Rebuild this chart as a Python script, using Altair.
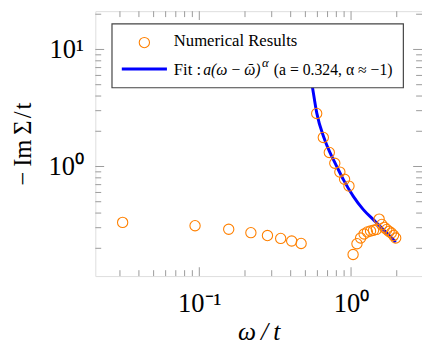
import altair as alt
import pandas as pd

# ---- data ----
X_PTS = [0.03125, 0.09375, 0.15625, 0.21875, 0.28125, 0.34375, 0.40625, 0.46875,
         0.59375, 0.65625, 0.71875, 0.78125, 0.84375, 0.90625, 0.96875,
         1.03125, 1.09375, 1.15625, 1.21875, 1.28125, 1.34375, 1.40625, 1.46875,
         1.53125, 1.59375, 1.65625, 1.71875, 1.78125, 1.84375, 1.90625, 1.96875]
Y_PTS = [0.333, 0.312, 0.291, 0.272, 0.257, 0.243, 0.231, 0.220,
         2.84, 1.77, 1.318, 1.066, 0.896, 0.778, 0.680,
         0.177, 0.219, 0.245, 0.265, 0.276, 0.281, 0.285, 0.290,
         0.355, 0.320, 0.302, 0.290, 0.279, 0.270, 0.258, 0.245]

FIT_X = [0.535, 0.556, 0.594, 0.662, 0.724, 0.788, 0.892, 1.035, 1.201, 1.43, 1.70, 1.97]
FIT_Y = [6.5, 4.80, 2.87, 1.77, 1.326, 1.06, 0.768, 0.556, 0.430, 0.343, 0.274, 0.226]

X_MAJOR = [0.1, 1.0]
X_MINOR = [0.03, 0.04, 0.05, 0.06, 0.07, 0.08, 0.09,
           0.2, 0.3, 0.4, 0.5, 0.6, 0.7, 0.8, 0.9, 2.0]
Y_MAJOR = [1.0, 10.0]
Y_MINOR = [0.2, 0.3, 0.4, 0.5, 0.6, 0.7, 0.8, 0.9,
           2, 3, 4, 5, 6, 7, 8, 9, 20]

LEGEND_LABELS = ["Numerical Results", "Fit :"]
FIT_FORMULA = "a(ω\u2009−\u2009ῶ)"
FIT_EXP = "α"
FIT_PARAMS = "(a = 0.324, α ≈ −1)"
X_TITLE = "ω\u2009/\u2009t"
Y_TITLE = "−\u2009Im\u2009Σ\u200a/\u200at"

# ---- layout ----
W, H = 333, 270
X_DOMAIN = [0.020643, 2.934]
Y_DOMAIN = [0.11581, 21.23]
FONT = "Liberation Serif"
MAJ, MIN = 9, 6
TICK_COLOR = "#9a9a9a"

xs = alt.Scale(type="log", domain=X_DOMAIN, nice=False, zero=False)
ys = alt.Scale(type="log", domain=Y_DOMAIN, nice=False, zero=False)

pts = pd.DataFrame({"w": X_PTS, "s": Y_PTS})
fit = pd.DataFrame({"w": FIT_X, "s": FIT_Y})
xmaj = pd.DataFrame({"v": X_MAJOR})
xmin = pd.DataFrame({"v": X_MINOR})
ymaj = pd.DataFrame({"v": Y_MAJOR})
ymin = pd.DataFrame({"v": Y_MINOR})
one = pd.DataFrame({"k": [0]})

xaxis = alt.Axis(values=X_MAJOR, ticks=False, grid=False, domain=False,
                 labelExpr="datum.value < 0.5 ? '10⁻¹' : '10⁰'",
                 labelFont=FONT, labelFontSize=27, labelColor="black",
                 labelBaseline="alphabetic", labelPadding=36, labelFlush=False,
                 title=X_TITLE, titleFont=FONT, titleFontStyle="italic",
                 titleFontWeight="normal", titleFontSize=26, titleColor="black",
                 titleBaseline="alphabetic", titleY=65)
yaxis = alt.Axis(values=Y_MAJOR, ticks=False, grid=False, domain=False,
                 labelExpr="datum.value < 5 ? '10⁰' : '10¹'",
                 labelFont=FONT, labelFontSize=27, labelColor="black",
                 labelPadding=12, labelFlush=False, labelBaseline="middle",
                 title=Y_TITLE, titleFont=FONT, titleFontWeight="normal",
                 titleFontSize=25, titleColor="black",
                 titleBaseline="alphabetic", titleX=-66, titleY=135,
                 titleAngle=270, titleAlign="center")

base_pts = alt.Chart(pts).mark_point(shape="circle", filled=False, size=110,
                                     color="#ff8000", strokeWidth=1.1, opacity=1,
                                     clip=True).encode(
    x=alt.X("w:Q", scale=xs, axis=xaxis),
    y=alt.Y("s:Q", scale=ys, axis=yaxis))

curve = alt.Chart(fit).mark_line(color="#0000ff", strokeWidth=3,
                                 interpolate="monotone", clip=True).encode(
    x=alt.X("w:Q", scale=xs), y=alt.Y("s:Q", scale=ys))


def xticks(df, length):
    bot = alt.Chart(df).mark_rule(color=TICK_COLOR, strokeWidth=1).encode(
        x=alt.X("v:Q", scale=xs), y=alt.value(H), y2=alt.value(H - length))
    top = alt.Chart(df).mark_rule(color=TICK_COLOR, strokeWidth=1).encode(
        x=alt.X("v:Q", scale=xs), y=alt.value(0), y2=alt.value(length))
    return [bot, top]


def yticks(df, length):
    left = alt.Chart(df).mark_rule(color=TICK_COLOR, strokeWidth=1).encode(
        y=alt.Y("v:Q", scale=ys), x=alt.value(0), x2=alt.value(length))
    right = alt.Chart(df).mark_rule(color=TICK_COLOR, strokeWidth=1).encode(
        y=alt.Y("v:Q", scale=ys), x=alt.value(W), x2=alt.value(W - length))
    return [left, right]


ticks = xticks(xmaj, MAJ) + xticks(xmin, MIN) + yticks(ymaj, MAJ) + yticks(ymin, MIN)

# ---- legend (drawn in pixel space) ----
leg_box = alt.Chart(one).mark_rect(fill="white", stroke="#444444", strokeWidth=1.2).encode(
    x=alt.value(17), x2=alt.value(314), y=alt.value(13), y2=alt.value(78))
leg_circ = alt.Chart(one).mark_point(shape="circle", filled=False, size=110,
                                     color="#ff8000", strokeWidth=1.1, opacity=1).encode(
    x=alt.value(50), y=alt.value(32))
leg_line = alt.Chart(one).mark_rule(color="#0000ff", strokeWidth=3).encode(
    x=alt.value(27), x2=alt.value(73), y=alt.value(59))


def txt(s, x, y, size=17, style="normal"):
    return alt.Chart(one).mark_text(text=s, font=FONT, fontSize=size, fontStyle=style,
                                    align="left", baseline="middle", color="black").encode(
        x=alt.value(x), y=alt.value(y))


leg_txt = [
    txt(LEGEND_LABELS[0], 80, 30),
    txt(LEGEND_LABELS[1], 80, 60),
    txt(FIT_FORMULA, 110, 60, size=16, style="italic"),
    txt(FIT_EXP, 170, 53, size=13, style="italic"),
    txt(FIT_PARAMS, 182, 60, size=16),
]

chart = alt.layer(*ticks, curve, base_pts, leg_box, leg_circ, leg_line, *leg_txt).properties(
    width=W, height=H,
    autosize=alt.AutoSizeParams(type="none"),
    padding={"left": 89, "top": 0, "right": 0, "bottom": 67},
).configure_view(stroke="black", strokeWidth=1.2).configure(background="white")

chart.save("out.html", embed_options={"renderer": "svg", "actions": False})
